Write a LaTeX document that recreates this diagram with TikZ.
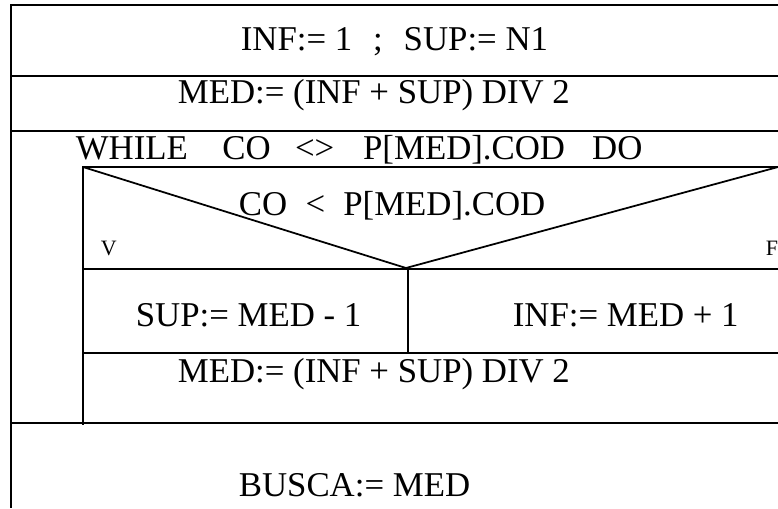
\documentclass[tikz,border=0pt]{standalone}
\usepackage{fontspec}
\setmainfont{Liberation Serif}
\usepackage{tikz}

\begin{document}
\begin{tikzpicture}[x=0.02cm, y=-0.02cm, line width=1pt,
    stmt/.style={anchor=base west, inner sep=0pt, font=\fontsize{19.8}{23}\selectfont},
    flag/.style={anchor=base west, inner sep=0pt, font=\fontsize{12.5}{15}\selectfont}]
    \useasboundingbox (0,0) rectangle (778,508);

    % --- OUTER SEQUENCE ---
    \draw (778,5) -- (11,5) -- (11,508);
    \draw (11,76) -- (778,76);
    \draw (11,131) -- (778,131);
    \draw (11,423) -- (778,423);

    \node[stmt] (init) at (240,50) {INF:= 1\hspace{0.6em};\hspace{0.6em}SUP:= N1};
    \node[stmt] (med1) at (177,103) {MED:= (INF + SUP) DIV 2};
    \node[stmt] (loop) at (75,159) {WHILE\hspace{0.99em}CO\hspace{0.7em}<>\hspace{0.83em}P[MED].COD\hspace{0.78em}DO};

    % --- LOOP BODY ---
    \draw (778,167) -- (83,167) -- (83,425);
    \draw (83,167) -- (406,268) -- (778,167);
    \draw (83,269) -- (778,269);
    \draw (408,269) -- (408,353);
    \draw (83,353) -- (778,353);

    \node[stmt] (cond) at (238,215) {CO\hspace{0.53em}<\hspace{0.52em}P[MED].COD};
    \node[flag] (yes) at (100,255) {V};
    \node[flag] (no) at (765,255) {F};
    \node[stmt] (lower) at (135,326) {SUP:= MED - 1};
    \node[stmt] (upper) at (512,326) {INF:= MED + 1};
    \node[stmt] (med2) at (177,382) {MED:= (INF + SUP) DIV 2};

    % --- RESULT ---
    \node[stmt] (result) at (238,496) {BUSCA:= MED};
\end{tikzpicture}
\end{document}
